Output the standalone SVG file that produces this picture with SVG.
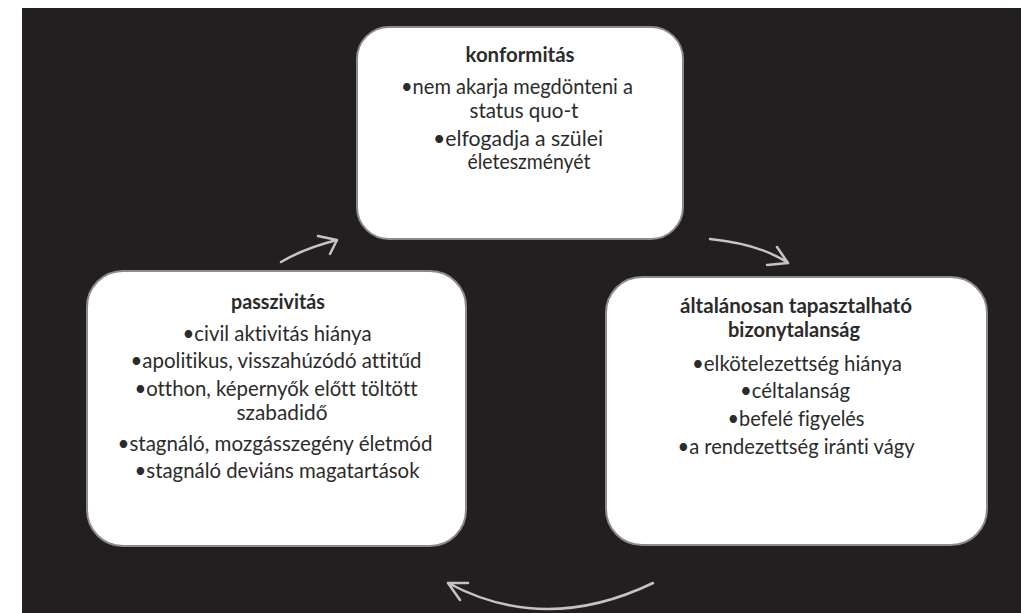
<svg xmlns="http://www.w3.org/2000/svg" width="1030" height="613" viewBox="0 0 1030 613">
<style>
.box{fill:#ffffff;stroke:#8c8c8c;stroke-width:2}
.t{font-family:Lato,"Open Sans","Liberation Sans",sans-serif;font-size:21px;fill:#2b2b2b;text-anchor:middle;font-variant-ligatures:none}
.b{font-weight:bold;font-size:20px}
.arr{fill:none;stroke:#c4c4c4;stroke-width:2.5;stroke-linecap:round;stroke-linejoin:round}
</style>
<rect x="0" y="0" width="1030" height="613" fill="#ffffff"/>
<rect x="22" y="8" width="999" height="605" fill="#231f20"/>
<g id="connectors">
<path class="arr" d="M281,262 Q305,248 337,240 M318,236 L337,240 L330,254"/>
<path class="arr" d="M710,239 Q760,244 788,263 M777,247 L788,263 L767,265"/>
<path class="arr" d="M653,583 Q545,635 448,583 M468,583 L448,583 L460,600"/>
</g>
<g id="konformitas">
<rect class="box" x="357" y="27" width="326" height="212" rx="32"/>
<text class="t b" x="520" y="62" textLength="109" lengthAdjust="spacingAndGlyphs">konformitás</text>
<text class="t" x="517" y="94" textLength="232" lengthAdjust="spacingAndGlyphs">•nem akarja megdönteni a</text>
<text class="t" x="524" y="118" textLength="109" lengthAdjust="spacingAndGlyphs">status quo-t</text>
<text class="t" x="518" y="146" textLength="170" lengthAdjust="spacingAndGlyphs">•elfogadja a szülei</text>
<text class="t" x="529" y="169" textLength="123" lengthAdjust="spacingAndGlyphs">életeszményét</text>
</g>
<g id="passzivitas">
<rect class="box" x="87" y="271" width="379" height="275" rx="36"/>
<text class="t b" x="278" y="309" textLength="94" lengthAdjust="spacingAndGlyphs">passzivitás</text>
<text class="t" x="277" y="341" textLength="189" lengthAdjust="spacingAndGlyphs">•civil aktivitás hiánya</text>
<text class="t" x="276" y="368" textLength="291" lengthAdjust="spacingAndGlyphs">•apolitikus, visszahúzódó attitűd</text>
<text class="t" x="276" y="396" textLength="283" lengthAdjust="spacingAndGlyphs">•otthon, képernyők előtt töltött</text>
<text class="t" x="282" y="420" textLength="91" lengthAdjust="spacingAndGlyphs">szabadidő</text>
<text class="t" x="275" y="451" textLength="315" lengthAdjust="spacingAndGlyphs">•stagnáló, mozgásszegény életmód</text>
<text class="t" x="277" y="478" textLength="285" lengthAdjust="spacingAndGlyphs">•stagnáló deviáns magatartások</text>
</g>
<g id="bizonytalansag">
<rect class="box" x="606" y="277" width="381" height="268" rx="36"/>
<text class="t b" x="796" y="313" textLength="232" lengthAdjust="spacingAndGlyphs">általánosan tapasztalható</text>
<text class="t b" x="794" y="337" textLength="132" lengthAdjust="spacingAndGlyphs">bizonytalanság</text>
<text class="t" x="797" y="371" textLength="210" lengthAdjust="spacingAndGlyphs">•elkötelezettség hiánya</text>
<text class="t" x="795" y="398" textLength="110" lengthAdjust="spacingAndGlyphs">•céltalanság</text>
<text class="t" x="796" y="426" textLength="137" lengthAdjust="spacingAndGlyphs">•befelé figyelés</text>
<text class="t" x="796" y="454" textLength="237" lengthAdjust="spacingAndGlyphs">•a rendezettség iránti vágy</text>
</g>
</svg>
